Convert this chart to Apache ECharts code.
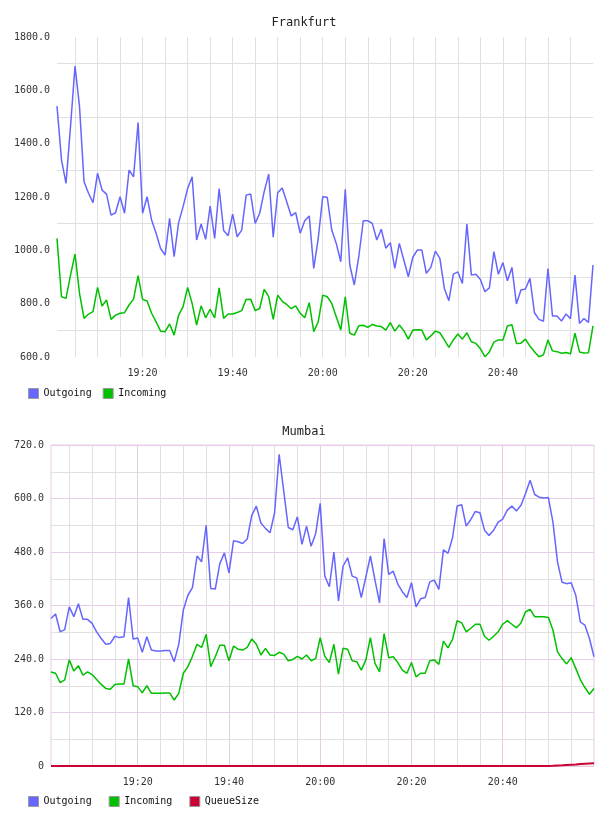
<!DOCTYPE html>
<html>
<head>
<meta charset="utf-8">
<script src="https://cdn.jsdelivr.net/npm/echarts@6/dist/echarts.min.js"></script>
<style>
  html, body { margin: 0; padding: 0; background: #fff; }
  #chart { width: 608px; height: 816px; }
</style>
</head>
<body>
<div id="chart"></div>
<script>
  // one sample per minute, 19:01 .. 21:00
  const times = [];
  for (let m = 1; m <= 120; m++) {
    const h = 19 + Math.floor(m / 60), mm = m % 60;
    times.push(h + ':' + (mm < 10 ? '0' : '') + mm);
  }

  const frankfurtOut = [
    1541,1339,1251,1464,1691,1539,1257,1214,1179,1289,
    1226,1211,1132,1141,1201,1139,1301,1276,1479,1139,
    1201,1114,1064,1007,982,1120,976,1104,1164,1232,
    1276,1039,1099,1041,1166,1045,1232,1074,1055,1136,
    1051,1076,1207,1211,1101,1139,1220,1286,1049,1216,
    1234,1182,1129,1141,1064,1111,1129,932,1045,1201,
    1199,1076,1026,957,1229,945,870,976,1111,1111,
    1101,1039,1079,1008,1029,932,1026,964,901,974,
    1001,1001,914,936,997,970,857,811,911,919,
    876,1099,907,910,891,845,859,995,910,954,
    886,936,799,851,855,895,766,741,734,932,
    754,754,735,761,744,907,726,744,730,945
  ];
  const frankfurtIn = [
    1045,826,820,907,986,839,745,761,770,861,
    791,814,741,757,764,766,795,817,905,816,
    810,764,732,697,695,724,682,757,789,861,
    801,720,792,747,779,747,859,745,761,761,
    767,774,816,817,774,782,854,826,741,832,
    809,797,781,792,764,747,804,695,732,832,
    826,801,751,701,826,689,682,717,719,711,
    722,716,714,701,729,697,720,699,667,701,
    702,701,664,679,697,691,664,636,664,686,
    667,691,657,651,631,601,619,656,664,664,
    716,721,651,652,667,641,620,601,608,664,
    623,620,614,617,612,689,619,615,616,717
  ];
  const mumbaiOut = [
    331,341,301,306,357,335,364,329,329,320,
    301,286,273,275,291,288,290,378,285,287,
    255,290,260,258,258,259,259,234,273,350,
    383,400,471,458,540,398,397,454,478,433,
    505,503,499,509,562,583,545,533,523,568,
    699,617,535,530,559,497,538,493,521,589,
    426,402,480,370,448,467,426,422,378,424,
    471,417,366,510,430,437,408,391,378,411,
    357,375,378,413,417,396,485,477,512,583,
    586,538,553,571,568,529,517,529,547,554,
    574,583,572,585,611,641,609,603,601,602,
    547,458,412,409,411,383,323,316,286,245
  ];
  const mumbaiIn = [
    211,208,187,193,238,213,225,204,211,205,
    194,183,174,172,183,184,184,240,180,178,
    164,180,163,163,163,164,164,148,163,208,
    223,246,273,266,295,223,245,271,271,236,
    269,262,260,266,285,273,249,264,249,248,
    255,251,236,239,246,240,249,236,241,288,
    246,232,273,206,264,262,236,234,215,238,
    288,230,211,297,243,245,232,215,208,232,
    200,208,208,236,238,228,280,265,284,326,
    321,301,309,318,318,291,282,291,301,318,
    326,318,310,321,346,351,335,335,335,333,
    305,256,241,229,243,219,194,176,161,174
  ];
  const mumbaiQueue = [
    0,0,0,0,0,0,0,0,0,0,
    0,0,0,0,0,0,0,0,0,0,
    0,0,0,0,0,0,0,0,0,0,
    0,0,0,0,0,0,0,0,0,0,
    0,0,0,0,0,0,0,0,0,0,
    0,0,0,0,0,0,0,0,0,0,
    0,0,0,0,0,0,0,0,0,0,
    0,0,0,0,0,0,0,0,0,0,
    0,0,0,0,0,0,0,0,0,0,
    0,0,0,0,0,0,0,0,0,0,
    0,0,0,0,0,0,0,0,0,0,
    0.3,1,1.6,2.3,3,3.6,4.3,5,5.5,6
  ];

  const mono = 'DejaVu Sans Mono';
  const gray = '#e0e0e0';
  const pink = '#e6cce6';
  const minute = v => +v.split(':')[1];
  const last = times.length - 1;
  const fmt1 = v => v === 0 ? '0' : v.toFixed(1);

  const labelStyle = { fontFamily: mono, fontSize: 10, color: '#333' };

  const chart = echarts.init(document.getElementById('chart'));
  const option = {
    animation: false,
    backgroundColor: '#fff',
    title: [
      { text: 'Frankfurt', left: 'center', top: 12,
        textStyle: { fontFamily: mono, fontSize: 12, fontWeight: 'normal', color: '#222' } },
      { text: 'Mumbai', left: 'center', top: 421,
        textStyle: { fontFamily: mono, fontSize: 12, fontWeight: 'normal', color: '#222' } }
    ],
    legend: [
      { left: 23, top: 383, itemWidth: 10, itemHeight: 10, itemGap: 11, icon: 'rect',
        data: ['Outgoing', 'Incoming'],
        itemStyle: { borderColor: '#999', borderWidth: 1 },
        textStyle: { fontFamily: mono, fontSize: 10, color: '#111' } },
      { left: 23, top: 791, itemWidth: 10, itemHeight: 10, itemGap: 17, icon: 'rect',
        data: ['Outgoing', 'Incoming', 'QueueSize'],
        itemStyle: { borderColor: '#999', borderWidth: 1 },
        textStyle: { fontFamily: mono, fontSize: 10, color: '#111' } }
    ],
    grid: [
      { left: 57, right: 15, top: 37, height: 320 },
      { left: 51, right: 14, top: 445, height: 321, show: true, borderColor: pink, borderWidth: 1 }
    ],
    xAxis: [
      {
        type: 'category', gridIndex: 0, data: times, boundaryGap: false,
        axisLine: { show: false }, axisTick: { show: false },
        axisLabel: Object.assign({ margin: 11, interval: (i, v) => i < last && minute(v) % 20 === 0 }, labelStyle),
        splitLine: { show: true, interval: (i, v) => i < last && minute(v) % 5 === 0, lineStyle: { color: gray } }
      },
      {
        type: 'category', gridIndex: 1, data: times, boundaryGap: false,
        axisLine: { show: false }, axisTick: { show: false },
        axisLabel: Object.assign({ margin: 11, interval: (i, v) => i < last && minute(v) % 20 === 0 }, labelStyle),
        splitLine: { show: true, interval: (i, v) => i < last && minute(v) % 5 === 0 && minute(v) % 20 !== 0, lineStyle: { color: gray } }
      },
      {
        type: 'category', gridIndex: 1, data: times, boundaryGap: false,
        axisLine: { show: false }, axisTick: { show: false }, axisLabel: { show: false },
        splitLine: { show: true, interval: (i, v) => i < last && minute(v) % 20 === 0, lineStyle: { color: pink } }
      }
    ],
    yAxis: [
      {
        type: 'value', gridIndex: 0, min: 600, max: 1800, interval: 200,
        axisLine: { show: false }, axisTick: { show: false },
        axisLabel: Object.assign({ margin: 7, formatter: fmt1 }, labelStyle),
        splitLine: { show: false },
        minorTick: { show: false, splitNumber: 2 },
        minorSplitLine: { show: true, lineStyle: { color: gray } }
      },
      {
        type: 'value', gridIndex: 1, min: 0, max: 720, interval: 120,
        axisLine: { show: false }, axisTick: { show: false },
        axisLabel: Object.assign({ margin: 7, formatter: fmt1 }, labelStyle),
        splitLine: { show: true, lineStyle: { color: pink } },
        minorTick: { show: false, splitNumber: 2 },
        minorSplitLine: { show: true, lineStyle: { color: gray } }
      }
    ],
    series: [
      { name: 'Outgoing', type: 'line', xAxisIndex: 0, yAxisIndex: 0, data: frankfurtOut,
        showSymbol: false, color: '#6666ff', lineStyle: { width: 1.5 } },
      { name: 'Incoming', type: 'line', xAxisIndex: 0, yAxisIndex: 0, data: frankfurtIn,
        showSymbol: false, color: '#00c000', lineStyle: { width: 1.5 } },
      { name: 'Outgoing', type: 'line', xAxisIndex: 1, yAxisIndex: 1, data: mumbaiOut,
        showSymbol: false, color: '#6666ff', lineStyle: { width: 1.5 } },
      { name: 'Incoming', type: 'line', xAxisIndex: 1, yAxisIndex: 1, data: mumbaiIn,
        showSymbol: false, color: '#00c000', lineStyle: { width: 1.5 } },
      { name: 'QueueSize', type: 'line', xAxisIndex: 1, yAxisIndex: 1, data: mumbaiQueue,
        showSymbol: false, color: '#cc0033', lineStyle: { width: 2 }, z: 5 }
    ]
  };
  chart.setOption(option);
</script>
</body>
</html>
